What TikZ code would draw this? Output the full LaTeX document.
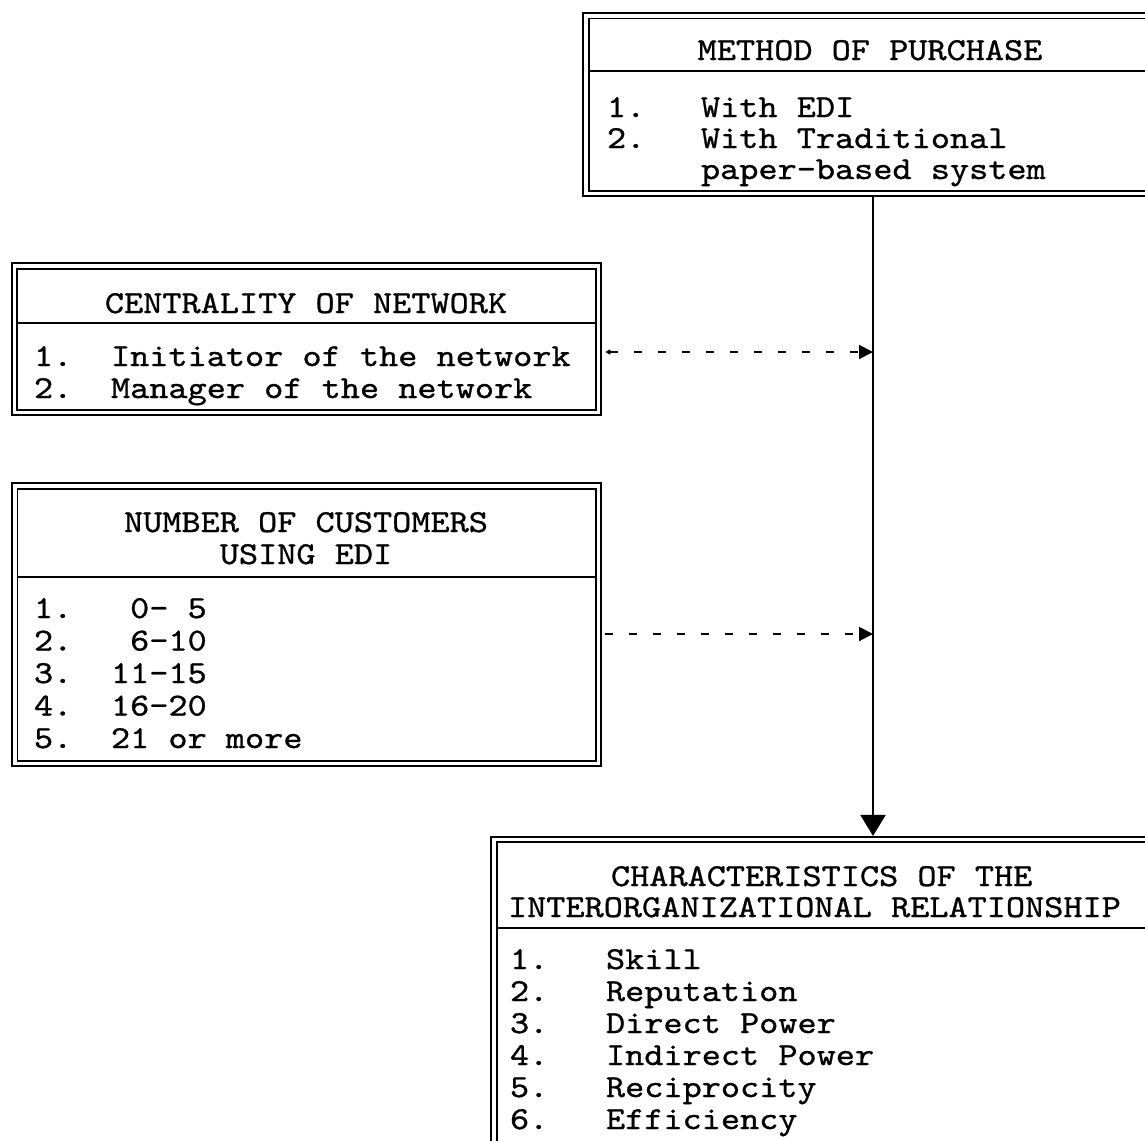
\documentclass[tikz,border=0pt]{standalone}
\usepackage{fontspec}
\newfontfamily\cour[FakeStretch=1.14,FakeBold=0.9]{lmmono10-regular.otf}
\usetikzlibrary{arrows.meta}
\frenchspacing
\begin{document}
\begin{tikzpicture}[x=0.5pt,y=-0.5pt,
  box/.style={draw, rectangle, line width=0.9pt, double, double distance=1.75pt, inner sep=0pt, outer sep=1.775pt},
  txt/.style={font=\cour\fontsize{16}{19}\selectfont, inner sep=0pt, outer sep=0pt, anchor=base west},
  ttl/.style={txt, anchor=base},
  sepline/.style={line width=1pt},
  conn/.style={line width=1pt},
  dconn/.style={line width=1pt, dash pattern=on 4pt off 8pt},
]
\useasboundingbox (0,0) rectangle (1145,1140);
\fill[white] (0,0) rectangle (1145,1140);
\clip (0,0) rectangle (1145,1140);

% boxes
\node[box, minimum width=287pt, minimum height=88.85pt] (purch) at (873,104.65) {};
\node[box, minimum width=292.1pt, minimum height=73.25pt] (cent) at (306.6,339.25) {};
\node[box, minimum width=291.95pt, minimum height=138.85pt] (num) at (306.75,624.85) {};
\node[box, minimum width=333pt, minimum height=180.25pt] (chars) at (827,1019.75) {};

% separator levels
\coordinate (s1) at (0,71);
\coordinate (s2) at (0,323);
\coordinate (s3) at (0,577);
\coordinate (s4) at (0,928);
\draw[sepline] ([xshift=3.1pt]purch.west |- s1) -- ([xshift=-3.1pt]purch.east |- s1);
\draw[sepline] ([xshift=3.1pt]cent.west |- s2) -- ([xshift=-3.1pt]cent.east |- s2);
\draw[sepline] ([xshift=3.1pt]num.west |- s3) -- ([xshift=-3.1pt]num.east |- s3);
\draw[sepline] ([xshift=3.1pt]chars.west |- s4) -- ([xshift=-3.1pt]chars.east |- s4);

% texts: method of purchase
\node[ttl] (pttl) at (870,60) {METHOD OF PURCHASE};
\node[txt] (p1n) at (607,117) {1.};
\node[txt] (p1t) at (701,117) {With EDI};
\node[txt] (p2n) at (607,148) {2.};
\node[txt] (p2t) at (701,148) {With Traditional};
\node[txt] (p3t) at (701,179) {paper-based system};

% centrality
\node[ttl] (cttl) at (306,313) {CENTRALITY OF NETWORK};
\node[txt] (c1n) at (34,366) {1.};
\node[txt] (c1t) at (111,366) {Initiator of the network};
\node[txt] (c2n) at (34,398) {2.};
\node[txt] (c2t) at (111,398) {Manager of the network};

% number of customers
\node[ttl] (nttl1) at (306,532) {NUMBER OF CUSTOMERS};
\node[ttl] (nttl2) at (306,564) {USING EDI};
\node[txt] (n1n) at (34,618) {1.};
\node[txt] (n1t) at (111,618) {~0-~5};
\node[txt] (n2n) at (34,650.5) {2.};
\node[txt] (n2t) at (111,650.5) {~6-10};
\node[txt] (n3n) at (34,683) {3.};
\node[txt] (n3t) at (111,683) {11-15};
\node[txt] (n4n) at (34,715.5) {4.};
\node[txt] (n4t) at (111,715.5) {16-20};
\node[txt] (n5n) at (34,748) {5.};
\node[txt] (n5t) at (111,748) {21 or more};

% characteristics
\node[txt] (kttl1) at (611,886) {CHARACTERISTICS OF THE};
\node[txt] (kttl2) at (508,917) {INTERORGANIZATIONAL RELATIONSHIP};
\node[txt] (k1n) at (510,969) {1.};
\node[txt] (k1t) at (606,969) {Skill};
\node[txt] (k2n) at (510,1001) {2.};
\node[txt] (k2t) at (606,1001) {Reputation};
\node[txt] (k3n) at (510,1033) {3.};
\node[txt] (k3t) at (606,1033) {Direct Power};
\node[txt] (k4n) at (510,1065) {4.};
\node[txt] (k4t) at (606,1065) {Indirect Power};
\node[txt] (k5n) at (510,1097) {5.};
\node[txt] (k5t) at (606,1097) {Reciprocity};
\node[txt] (k6n) at (510,1129) {6.};
\node[txt] (k6t) at (606,1129) {Efficiency};

% connectors
\coordinate (d1) at (0,352);
\coordinate (d2) at (0,634);
\draw[conn, -{Triangle[length=10.5pt,width=12.5pt]}] (purch.south) -- (purch.south |- chars.north);
\draw[dconn, {Triangle[length=2.5pt,width=2.5pt]}-{Triangle[length=7pt,width=7pt]}, shorten <=1.5pt] (cent.east |- d1) -- (purch.south |- d1);
\draw[dconn, -{Triangle[length=7pt,width=7pt]}, shorten <=1.5pt] (num.east |- d2) -- (purch.south |- d2);
\end{tikzpicture}
\end{document}
